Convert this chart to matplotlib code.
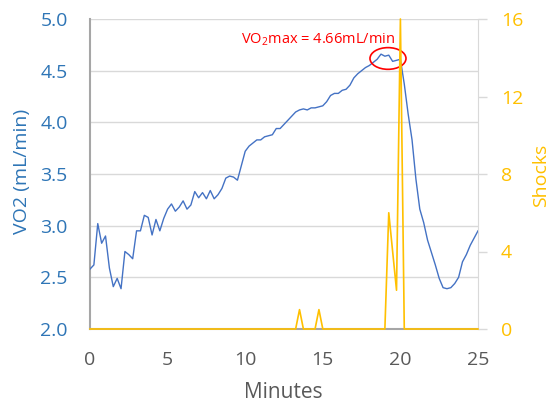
import matplotlib
matplotlib.use("Agg")
import matplotlib.pyplot as plt
from matplotlib.patches import Ellipse

# ── data ──────────────────────────────────────────────────────────────────────
# VO2 sampled every 15 s (0.25 min), 0 → 25 min
minutes = [i * 0.25 for i in range(101)]
vo2 = [
    2.58, 2.62, 3.02, 2.83, 2.90, 2.59, 2.41, 2.49, 2.39, 2.75,
    2.72, 2.68, 2.95, 2.95, 3.10, 3.08, 2.91, 3.06, 2.95, 3.07,
    3.16, 3.21, 3.14, 3.18, 3.24, 3.16, 3.20, 3.33, 3.27, 3.32,
    3.26, 3.34, 3.26, 3.30, 3.36, 3.46, 3.48, 3.47, 3.44, 3.58,
    3.72, 3.77, 3.80, 3.83, 3.83, 3.86, 3.87, 3.88, 3.94, 3.94,
    3.98, 4.02, 4.06, 4.10, 4.12, 4.13, 4.12, 4.14, 4.14, 4.15,
    4.16, 4.20, 4.26, 4.28, 4.28, 4.31, 4.32, 4.36, 4.43, 4.47,
    4.50, 4.53, 4.55, 4.58, 4.61, 4.66, 4.64, 4.65, 4.59, 4.60,
    4.61, 4.37, 4.08, 3.83, 3.45, 3.16, 3.03, 2.86, 2.74, 2.62,
    2.49, 2.40, 2.39, 2.40, 2.44, 2.50, 2.65, 2.72, 2.81, 2.88,
    2.95,
]

shock_minutes = [0, 13.25, 13.5, 13.75, 14.5, 14.75, 15.0, 19.0, 19.25, 19.75, 20.0, 20.25, 25]
shock_counts  = [0, 0,     1,    0,     0,    1,     0,    0,    6,     2,     16,   0,     0]

vo2_ticks    = [2.0, 2.5, 3.0, 3.5, 4.0, 4.5, 5.0]
shock_ticks  = [0, 4, 8, 12, 16]
minute_ticks = [0, 5, 10, 15, 20, 25]

VO2MAX = 4.66

BLUE_LINE = "#4472C4"
BLUE_TEXT = "#2E75B6"
GOLD      = "#FFC000"
GREY_TEXT = "#595959"

plt.rcParams["font.family"] = ["Open Sans", "DejaVu Sans"]
plt.rcParams["mathtext.fontset"] = "custom"
plt.rcParams["mathtext.rm"] = "Open Sans"
plt.rcParams["mathtext.default"] = "regular"

W, H = 553, 404
fig = plt.figure(figsize=(W / 100, H / 100), dpi=100)
ax = fig.add_axes([90 / W, 1 - 329 / H, 388 / W, 310 / H])

ax.plot(minutes, vo2, color=BLUE_LINE, lw=1.0, zorder=3)
ax.set_xlim(0, 25)
ax.set_ylim(2.0, 5.0)
ax.set_xticks(minute_ticks)
ax.set_yticks(vo2_ticks)
ax.set_yticklabels([f"{v:.1f}" for v in vo2_ticks])
ax.grid(axis="y", color="#D9D9D9", lw=1.0)
ax.set_axisbelow(True)

ax.tick_params(axis="y", length=0, pad=16, labelsize=14, labelcolor=BLUE_TEXT)
ax.tick_params(axis="x", length=0, pad=16, labelsize=14, labelcolor=GREY_TEXT)

for side in ["top", "right"]:
    ax.spines[side].set_visible(False)
ax.spines["left"].set_color("#A6A6A6")
ax.spines["left"].set_linewidth(1.5)
ax.spines["bottom"].set_color("#A6A6A6")
ax.spines["bottom"].set_linewidth(1.5)

# axis titles placed in figure pixels
fig.text(21.7 / W, 1 - 171 / H, "VO2 (mL/min)", color=BLUE_TEXT, fontsize=14,
         rotation=90, ha="center", va="center")
fig.text(283 / W, 1 - 392 / H, "Minutes", color=GREY_TEXT, fontsize=15,
         ha="center", va="center")
fig.text(541 / W, 1 - 175 / H, "Shocks", color=GOLD, fontsize=14,
         rotation=90, ha="center", va="center")

# VO2max annotation
ax.text(14.67, 4.80, r"VO$_2$max = %.2fmL/min" % VO2MAX, color="red",
        fontsize=10.5, ha="center", va="center")
ax.add_patch(Ellipse((19.2, 4.618), 2.32, 0.21, fill=False,
                     edgecolor="red", lw=1.2, zorder=4))

# shocks on secondary axis
ax2 = ax.twinx()
ax2.plot(shock_minutes, shock_counts, color=GOLD, lw=1.2, clip_on=False, zorder=5)
ax2.set_ylim(0, 16)
ax2.set_yticks(shock_ticks)
ax2.tick_params(axis="y", length=6.5, width=1, color="#D9D9D9", pad=10,
                labelsize=14, labelcolor=GOLD)
for side in ["top", "left", "bottom"]:
    ax2.spines[side].set_visible(False)
ax2.spines["right"].set_color("#D9D9D9")

fig.savefig("out.png", dpi=100)
